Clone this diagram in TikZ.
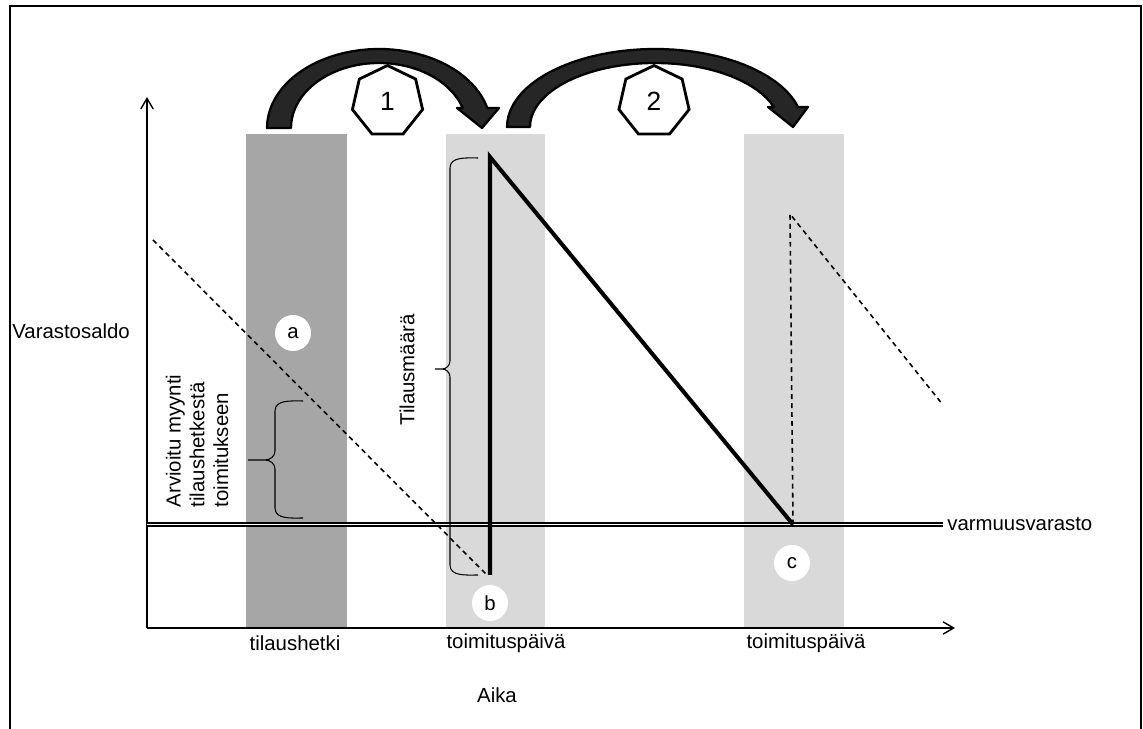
\documentclass[tikz,border=0pt]{standalone}
\usepackage{fontspec}
\setmainfont{Liberation Sans}
\usetikzlibrary{arrows.meta,shapes.geometric}
\definecolor{BarDark}{HTML}{A6A6A6}
\definecolor{BarLight}{HTML}{D9D9D9}
\definecolor{ArrowDark}{HTML}{262626}
\tikzset{
  framepath/.style={line width=1.6pt,draw=black},
  axisline/.style={-{Straight Barb[length=6pt,width=7pt,line width=0.8pt]},line width=1.5pt},
  orderbar/.style={fill=BarDark,draw=none},
  deliverybar/.style={fill=BarLight,draw=none},
  safetyline/.style={double,line width=0.9pt,double distance=0.9pt},
  stockline/.style={line width=2.3pt,line join=miter},
  forecastline/.style={dash pattern=on 2.8pt off 2.3pt,line width=0.9pt},
  bracepath/.style={line width=0.6pt},
  bendarrow/.style={fill=ArrowDark,draw=black,line width=1.3pt,line join=round},
  stepgon/.style={regular polygon,regular polygon sides=7,draw,line width=1.6pt,fill=white,minimum size=1.44cm,inner sep=0pt,font=\fontsize{15}{17}\selectfont},
  markdot/.style={circle,fill=white,minimum size=0.72cm,inner sep=0pt},
  lbl/.style={font=\fontsize{11.6}{13.5}\selectfont,inner sep=0pt}
}

\begin{document}
\begin{tikzpicture}[x=0.02cm,y=0.02cm]
  \useasboundingbox (0,0) rectangle (1143,729);
  \draw[framepath] (10,0) -- (10,723) -- (1141,723) -- (1141,0);

  \fill[orderbar] (246,101) rectangle (347,595);
  \fill[deliverybar] (446,101) rectangle (545,595);
  \fill[deliverybar] (744,101) rectangle (844,595);

  \coordinate (O) at (147,101);
  \draw[axisline] (O) -- (147,632);
  \draw[axisline] (O) -- (955,101);

  \node[lbl,anchor=west] (safety) at (947,204.5) {varmuusvarasto};
  \draw[safetyline] (147,204.5) -- (943,204.5);

  \draw[forecastline] (153,489) -- (487,154);
  \coordinate (low1) at (490,154);
  \coordinate (top1) at (490,572);
  \coordinate (low2) at (793,204.5);
  \coordinate (top2) at (790,515);
  \draw[stockline] (low1) -- (top1) -- (low2);
  \draw[forecastline] (low2) -- (top2) -- (943,324);

  \draw[bracepath] (478,571) to[out=180,in=90] (450,561) -- (450,368)
    to[out=-90,in=0] (442,360) -- (435,360) (442,360) to[out=0,in=90] (450,352)
    -- (450,164) to[out=-90,in=180] (478,154);
  \draw[bracepath] (303,328) to[out=180,in=90] (275,318) -- (275,278)
    to[out=-90,in=0] (265,269) -- (248,269) (265,269) to[out=0,in=90] (275,260)
    -- (275,221) to[out=-90,in=180] (303,211);

  \node[markdot,lbl] (ma) at (293,396) {a};
  \node[markdot,lbl] (mb) at (490,126) {b};
  \node[markdot,lbl] (mc) at (792,166) {c};

  \draw[bendarrow] plot[domain=180:14.7,samples=40] ({379+112*cos(\x)},{601+79*sin(\x)})
    -- (499,621) -- (482,601) -- (457,621)
    -- plot[domain=17.9:180,samples=40] ({379+88*cos(\x)},{601+65*sin(\x)}) -- cycle;
  \draw[bendarrow] plot[domain=180:14.9,samples=40] ({655+148*cos(\x)},{602+78*sin(\x)})
    -- (808,622) -- (793,602) -- (768,622)
    -- plot[domain=18.2:180,samples=40] ({655+125*cos(\x)},{602+64*sin(\x)}) -- cycle;
  \node[stepgon] (n1) at (387.5,627.5) {1};
  \node[stepgon] (n2) at (654,627.5) {2};

  \node[lbl,anchor=west] (ylab) at (12,398) {Varastosaldo};
  \node[lbl] (t0) at (295,86) {tilaushetki};
  \node[lbl] (t1) at (506,86) {toimituspäivä};
  \node[lbl] (t2) at (806,86) {toimituspäivä};
  \node[lbl] (xlab) at (497,34) {Aika};
  \node[lbl,rotate=90] (qty) at (407,359) {Tilausmäärä};
  \node[lbl,rotate=90,align=left] (est) at (197,288) {Arvioitu myynti\\tilaushetkestä\\toimitukseen};
\end{tikzpicture}
\end{document}
